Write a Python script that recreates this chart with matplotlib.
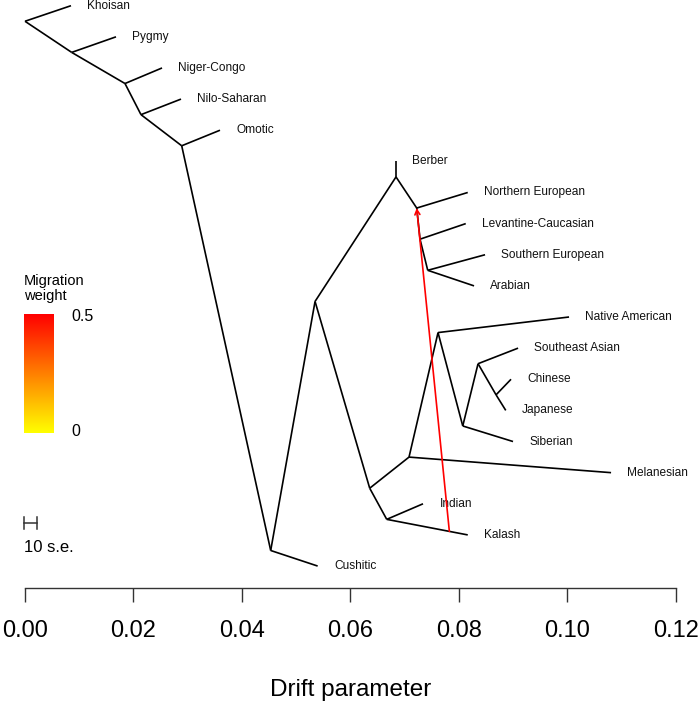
import numpy as np
import matplotlib.pyplot as plt
from matplotlib.colors import LinearSegmentedColormap

plt.rcParams['font.family'] = ['Liberation Sans', 'DejaVu Sans']

# tips: name, drift (x), vertical rank (y)
tip_names = ['Khoisan', 'Pygmy', 'Niger-Congo', 'Nilo-Saharan', 'Omotic', 'Berber',
             'Northern European', 'Levantine-Caucasian', 'Southern European', 'Arabian',
             'Native American', 'Southeast Asian', 'Chinese', 'Japanese', 'Siberian',
             'Melanesian', 'Indian', 'Kalash', 'Cushitic']
tip_x = [0.00848, 0.01678, 0.02527, 0.02877, 0.03596, 0.06842,
         0.08165, 0.08128, 0.08484, 0.08281,
         0.10033, 0.09093, 0.08963, 0.08866, 0.09000,
         0.10808, 0.07340, 0.08165, 0.05397]
tip_y = list(range(19))

# internal nodes
node_names = ['root', 'A', 'B', 'C', 'D', 'E', 'F', 'G', 'H', 'I', 'J',
              'K', 'L', 'M', 'N', 'O', 'P', 'Q']
node_x = [0.0, 0.00861, 0.01844, 0.02139, 0.02890, 0.04531, 0.05349, 0.06842,
          0.07224, 0.07285, 0.07427, 0.06357, 0.06671, 0.07082, 0.07617,
          0.08073, 0.08355, 0.08687]
node_y = [0.5, 1.5, 2.5, 3.5, 4.5, 17.5, 9.5, 5.5, 6.5, 7.5, 8.5,
          15.5, 16.5, 14.5, 10.5, 13.5, 11.5, 12.5]

# edges (parent, child)
edges = [('root', 'Khoisan'), ('root', 'A'), ('A', 'Pygmy'), ('A', 'B'),
         ('B', 'Niger-Congo'), ('B', 'C'), ('C', 'Nilo-Saharan'), ('C', 'D'),
         ('D', 'Omotic'), ('D', 'E'), ('E', 'Cushitic'), ('E', 'F'),
         ('F', 'G'), ('G', 'Berber'), ('G', 'H'), ('H', 'Northern European'),
         ('H', 'I'), ('I', 'Levantine-Caucasian'), ('I', 'J'),
         ('J', 'Southern European'), ('J', 'Arabian'),
         ('F', 'K'), ('K', 'L'), ('L', 'Indian'), ('L', 'Kalash'),
         ('K', 'M'), ('M', 'Melanesian'), ('M', 'N'), ('N', 'Native American'),
         ('N', 'O'), ('O', 'Siberian'), ('O', 'P'), ('P', 'Southeast Asian'),
         ('P', 'Q'), ('Q', 'Chinese'), ('Q', 'Japanese')]

# migration edge: from a point on the Kalash branch to node H
mig_from = ('L', 'Kalash', 0.773)
mig_to = 'H'
mig_weight = 0.5

se10 = 0.00234   # width of the 10 s.e. bar

pos = {}
for n, x, y in zip(tip_names, tip_x, tip_y):
    pos[n] = (x, y)
for n, x, y in zip(node_names, node_x, node_y):
    pos[n] = (x, y)

W, H = 700, 705
fig = plt.figure(figsize=(7, 7.05), dpi=100)
ax = fig.add_axes([25 / W, (H - 588) / H, 650.7 / W, 588 / H])
ax.set_xlim(0, 0.12)
ax.set_ylim(18.705, -0.183)

for p, c in edges:
    (x0, y0), (x1, y1) = pos[p], pos[c]
    ax.plot([x0, x1], [y0, y1], color='black', lw=1.2, clip_on=False,
            solid_capstyle='butt')

for n, x, y in zip(tip_names, tip_x, tip_y):
    ax.annotate(n, (x, y), xytext=(11.8, 0), textcoords='offset points',
                va='center', ha='left', fontsize=8.6, color='#111111',
                annotation_clip=False)

# migration arrow
cmap = LinearSegmentedColormap.from_list('mig', ['yellow', 'red'])
(px0, py0), (px1, py1) = pos[mig_from[0]], pos[mig_from[1]]
f = mig_from[2]
start = (px0 + f * (px1 - px0), py0 + f * (py1 - py0))
ax.annotate('', xy=pos[mig_to], xytext=start,
            arrowprops=dict(arrowstyle='->,head_length=0.35,head_width=0.18',
                            color=cmap(mig_weight / 0.5), lw=1.2,
                            shrinkA=0, shrinkB=0))

# 10 s.e. scale bar
ys = (523 - 5.7) / 31.13
ax.plot([-0.0002, -0.0002 + se10], [ys, ys], color='#333333', lw=1.1, clip_on=False)
for xx in [-0.0002, -0.0002 + se10]:
    ax.plot([xx, xx], [ys - 0.19, ys + 0.19], color='#333333', lw=1.1, clip_on=False)
fig.text(24 / W, 1 - 547 / H, '10 s.e.', fontsize=12, va='center', ha='left')

# axis
for s in ['left', 'right', 'top']:
    ax.spines[s].set_visible(False)
ax.spines['bottom'].set_linewidth(1.0)
ax.spines['bottom'].set_color('#333333')
ax.set_yticks([])
ax.set_xticks(np.arange(0, 0.121, 0.02))
ax.set_xticklabels(['%.2f' % v for v in np.arange(0, 0.121, 0.02)])
ax.tick_params(axis='x', direction='out', length=10, width=1.0, color='#333333',
               labelsize=17, pad=13)
fig.text(0.5 * (25 + 675.7) / W, 1 - 690 / H, 'Drift parameter', fontsize=17.5,
         ha='center', va='center')

# migration weight legend
fig.text(24 / W, 1 - 280.5 / H, 'Migration', fontsize=10.5, va='center', ha='left')
fig.text(24 / W, 1 - 296 / H, 'weight', fontsize=10.5, va='center', ha='left')
lax = fig.add_axes([24 / W, (H - 433) / H, 30 / W, 119 / H])
grad = np.linspace(1, 0, 256).reshape(-1, 1)
lax.imshow(grad, cmap=cmap, aspect='auto', vmin=0, vmax=1)
lax.axis('off')
fig.text(71 / W, 1 - 316.5 / H, '0.5', fontsize=11.5, va='center', ha='left')
fig.text(71 / W, 1 - 432 / H, '0', fontsize=11.5, va='center', ha='left')

fig.savefig('out.png', dpi=100)
